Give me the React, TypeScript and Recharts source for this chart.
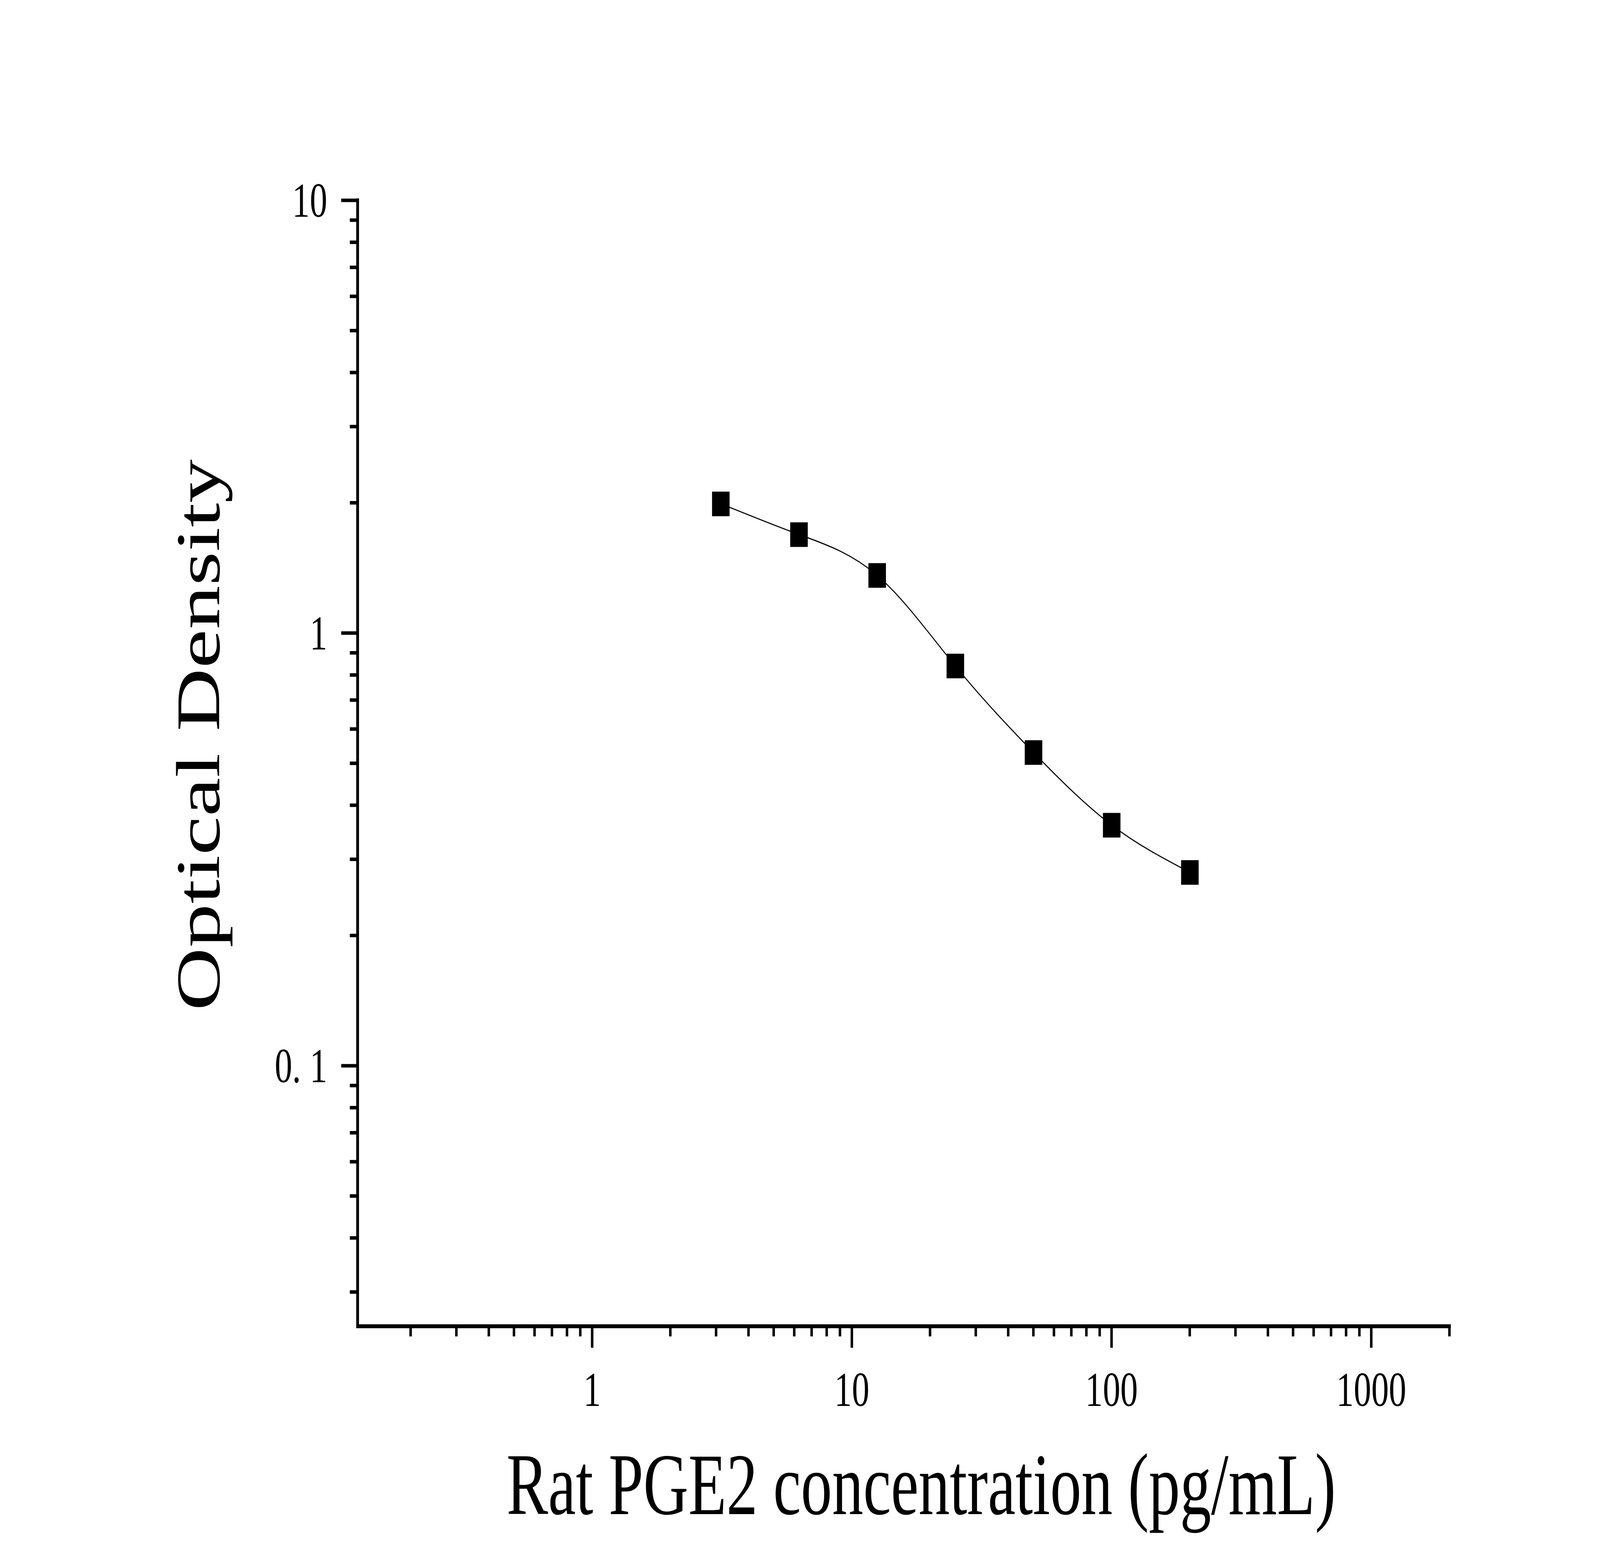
import React from 'react';
import {
  ComposedChart,
  Line,
  Scatter,
  XAxis,
  YAxis,
} from 'recharts';

// standard curve readings
const concentrations = [3.125, 6.25, 12.5, 25, 50, 100, 200];
const odValues = [1.99, 1.69, 1.36, 0.84, 0.53, 0.36, 0.28];

const xMajorTicks = [1, 10, 100, 1000];
const xMinorTicks = [
  0.2, 0.3, 0.4, 0.5, 0.6, 0.7, 0.8, 0.9,
  2, 3, 4, 5, 6, 7, 8, 9,
  20, 30, 40, 50, 60, 70, 80, 90,
  200, 300, 400, 500, 600, 700, 800, 900,
  2000,
];
const yMajorTicks = [0.1, 1, 10];
const yMajorLabels = ['0. 1', '1', '10'];
const yMinorTicks = [
  0.03, 0.04, 0.05, 0.06, 0.07, 0.08, 0.09,
  0.2, 0.3, 0.4, 0.5, 0.6, 0.7, 0.8, 0.9,
  2, 3, 4, 5, 6, 7, 8, 9,
];

const xTitle = 'Rat PGE2 concentration (pg/mL)';
const yTitle = 'Optical Density';

const W = 5749;
const H = 4015;
const FONT = '"Liberation Serif", "Times New Roman", serif';
const AXIS_W = 10;
const TICK_W = 9;

const data = concentrations.map((c, i) => ({ x: c, y: odValues[i] }));

const XTick = (props: any) => {
  const { x, y, payload } = props;
  const major = xMajorTicks.includes(payload.value);
  const len = major ? 50 : 21;
  return (
    <g>
      <line
        x1={x}
        x2={x}
        y1={y + AXIS_W / 2}
        y2={y + AXIS_W / 2 + len}
        stroke="#000"
        strokeWidth={TICK_W}
      />
      {major && (
        <text
          x={x}
          y={y + 204}
          textAnchor="middle"
          fontFamily={FONT}
          fontSize={126}
          fill="#000"
        >
          {payload.value}
        </text>
      )}
    </g>
  );
};

const YTick = (props: any) => {
  const { x, y, payload } = props;
  const idx = yMajorTicks.indexOf(payload.value);
  const major = idx >= 0;
  const len = major ? 54 : 23;
  return (
    <g>
      <line
        x1={x - AXIS_W / 2}
        x2={x - AXIS_W / 2 - len}
        y1={y}
        y2={y}
        stroke="#000"
        strokeWidth={TICK_W}
      />
      {major && (
        <text
          x={x - 109}
          y={y}
          textAnchor="end"
          dominantBaseline="central"
          fontFamily={FONT}
          fontSize={126}
          fill="#000"
        >
          {yMajorLabels[idx]}
        </text>
      )}
    </g>
  );
};

const SquareDot = (props: any) => {
  const { cx, cy } = props;
  return <rect x={cx - 31} y={cy - 31} width={63} height={63} fill="#000" />;
};

export default function App() {
  // the browser may give a narrower viewport than asked for; fit the page into it
  const vw = typeof window !== 'undefined' ? window.innerWidth : W;
  const vh = typeof window !== 'undefined' ? window.innerHeight : H;
  const sx = vw > 0 ? Math.min(1, vw / W) : 1;
  const sy = vh > 0 ? Math.min(1, vh / H) : 1;

  return (
    <div
      style={{
        position: 'fixed',
        left: 0,
        top: 0,
        right: 0,
        bottom: 0,
        overflow: 'hidden',
        background: '#fff',
      }}
    >
      <div
        style={{
          position: 'absolute',
          left: 0,
          top: 0,
          width: W,
          height: H,
          transform: `scale(${sx}, ${sy})`,
          transformOrigin: '0 0',
        }}
      >
        <ComposedChart
          width={W}
          height={H}
          data={data}
          margin={{ top: 513, right: 541, bottom: 0, left: 0 }}
        >
          <XAxis
            dataKey="x"
            type="number"
            scale="log"
            domain={[0.125, 2000]}
            allowDataOverflow
            ticks={[...xMinorTicks, ...xMajorTicks].sort((a, b) => a - b)}
            interval={0}
            height={619}
            tickSize={0}
            tickMargin={0}
            tickLine={false}
            tick={<XTick />}
            axisLine={{ stroke: '#000', strokeWidth: AXIS_W, strokeLinecap: 'square' }}
          />
          <YAxis
            type="number"
            scale="log"
            domain={[0.025, 10]}
            allowDataOverflow
            ticks={[...yMinorTicks, ...yMajorTicks].sort((a, b) => a - b)}
            interval={0}
            width={1285}
            tickSize={0}
            tickMargin={0}
            tickLine={false}
            tick={<YTick />}
            axisLine={{ stroke: '#000', strokeWidth: AXIS_W, strokeLinecap: 'square' }}
          />
          <Line
            dataKey="y"
            type="natural"
            stroke="#000"
            strokeWidth={3}
            dot={false}
            activeDot={false}
            isAnimationActive={false}
          />
          <Scatter dataKey="y" shape={<SquareDot />} isAnimationActive={false} />
        </ComposedChart>
        <svg
          width={W}
          height={H}
          style={{ position: 'absolute', left: 0, top: 0, pointerEvents: 'none' }}
        >
          <text
            x={3310}
            y={3877}
            textAnchor="middle"
            fontFamily={FONT}
            fontSize={224}
            fill="#000"
          >
            {xTitle}
          </text>
          <text
            transform="translate(787,1882) rotate(-90)"
            textAnchor="middle"
            fontFamily={FONT}
            fontSize={224}
            fill="#000"
          >
            {yTitle}
          </text>
        </svg>
      </div>
    </div>
  );
}
